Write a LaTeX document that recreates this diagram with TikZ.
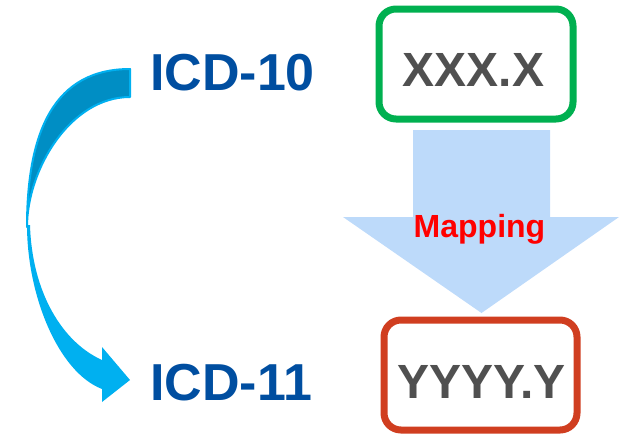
\documentclass[tikz,border=0pt]{standalone}
\usepackage{fontspec}
\setmainfont{Liberation Sans}
\begin{document}
\begin{tikzpicture}[x=1pt,y=-1pt,
  icd/.style={font=\fontsize{52}{60}\selectfont\bfseries, text=icdblue, inner sep=0pt, anchor=base west},
  code/.style={font=\fontsize{48}{56}\selectfont\bfseries, text=codegray, inner sep=0pt, anchor=base},
  codebox/.style={draw, line width=7pt, rounded corners=17pt, fill=white, inner sep=0pt},
  maplabel/.style={font=\fontsize{32}{38}\selectfont\bfseries, text=red, inner sep=0pt, anchor=base}]
\definecolor{icdblue}{RGB}{0,78,160}
\definecolor{codegray}{RGB}{80,80,80}
\definecolor{boxgreen}{RGB}{0,176,80}
\definecolor{boxred}{RGB}{208,62,32}
\definecolor{maparrow}{RGB}{189,218,250}
\definecolor{cyanlight}{RGB}{0,176,240}
\definecolor{cyandark}{RGB}{0,142,196}
\useasboundingbox (0,0) rectangle (628,434);
% mapping block arrow
\fill[maparrow] (413,130) -- (550,130) -- (550,217) -- (619,217) -- (481.5,313) -- (343,217) -- (413,217) -- cycle;
% boxes
\node[codebox, draw=boxgreen, minimum width=194pt, minimum height=110pt] (src) at (476,64) {};
\node[codebox, draw=boxred, minimum width=193pt, minimum height=110pt] (dst) at (480.5,375) {};
\node[code] (xxx) at (473.5,86) {XXX.X};
\node[code] (yyy) at (481.5,398) {YYYY.Y};
\node[maplabel] (map) at (479.5,237.5) {Mapping};
% ICD labels
\node[icd] (icd10) at (150,90) {ICD-10};
\node[icd] (icd11) at (150,400) {ICD-11};
% curved arrow: back (dark) band
\filldraw[fill=cyandark, draw=cyanlight, line width=2pt, line join=round]
  (130,69) .. controls (55,69) and (27,130) .. (27,227)
  .. controls (27,170) and (70,97) .. (130,97) -- cycle;
% curved arrow: front band with head
\fill[cyanlight]
  (27,225) .. controls (27,295) and (58,372) .. (102,389)
  -- (102,402) -- (130,380) -- (102,347) -- (102,360)
  .. controls (62,342) and (32,292) .. (30,225) -- cycle;
\end{tikzpicture}
\end{document}
